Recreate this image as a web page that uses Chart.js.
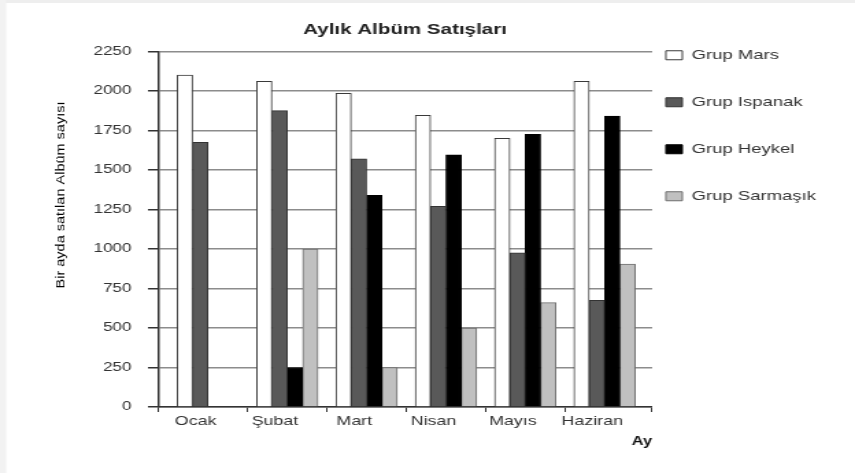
<!DOCTYPE html>
<html>
<head>
<meta charset="utf-8">
<style>
  html, body { margin: 0; padding: 0; background: #fff; overflow: hidden; }
  /* the chart is laid out on a narrower canvas and widened to the page */
  #wrap { width: 624px; height: 473px; transform: scaleX(1.3702); transform-origin: 0 0; }
</style>
<script src="https://cdn.jsdelivr.net/npm/chart.js@4/dist/chart.umd.min.js"></script>
</head>
<body>
<div id="wrap"><canvas id="chart" width="624" height="473"></canvas></div>
<script>
// Months (x categories)
const months = ['Ocak', 'Şubat', 'Mart', 'Nisan', 'Mayıs', 'Haziran'];

// Albums sold per month, one array per group
const grupMars     = [2100, 2060, 1985, 1845, 1700, 2060];
const grupIspanak  = [1675, 1875, 1570, 1270, 975, 675];
const grupHeykel   = [0, 250, 1340, 1595, 1725, 1840];
const grupSarmasik = [0, 1000, 250, 500, 660, 905];

// Y axis ticks
const yTicks = [0, 250, 500, 750, 1000, 1250, 1500, 1750, 2000, 2250];

const seriesNames = ['Grup Mars', 'Grup Ispanak', 'Grup Heykel', 'Grup Sarmaşık'];
const seriesData = [grupMars, grupIspanak, grupHeykel, grupSarmasik];
const seriesFill = ['#ffffff', '#595959', '#000000', '#c0c0c0'];
const seriesEdge = ['#3a3a3a', '#333333', '#000000', '#6e6e6e'];

const X_MIN = -0.63, X_MAX = 5.6;
// month centres carry the labels, group boundaries carry the tick marks
const xTickValues = [X_MIN];
months.forEach((m, i) => { xTickValues.push(i); if (i < months.length - 1) xTickValues.push(i + 0.5); });
xTickValues.push(X_MAX);

Chart.defaults.font.family = '"Liberation Sans", Arial, sans-serif';

const datasets = seriesNames.map((name, k) => ({
  label: name,
  data: seriesData[k].map((v, i) => ({ x: i, y: v })),
  backgroundColor: seriesFill[k],
  borderColor: seriesEdge[k],
  borderWidth: 1,
  barThickness: 11.2
}));

// light frame strip along the top and left edges
const edgeStrip = {
  id: 'edgeStrip',
  beforeDraw(chart) {
    const ctx = chart.ctx;
    ctx.save();
    ctx.fillStyle = '#eeeeee';
    ctx.fillRect(0, 0, chart.width, 3);
    ctx.fillStyle = '#f2f2f2';
    ctx.fillRect(0, 0, 4.5, chart.height);
    ctx.restore();
  }
};

// vertical title of the value axis
const yTitle = {
  id: 'yTitle',
  afterDraw(chart) {
    const ctx = chart.ctx;
    ctx.save();
    ctx.translate(44.4, 195);
    ctx.rotate(-Math.PI / 2);
    ctx.scale(1, 0.64);
    ctx.font = '14.5px "Liberation Sans", Arial, sans-serif';
    ctx.fillStyle = '#000';
    ctx.textAlign = 'center';
    ctx.textBaseline = 'middle';
    ctx.fillText('Bir ayda satılan Albüm sayısı', 0, 0);
    ctx.restore();
  }
};

new Chart(document.getElementById('chart'), {
  type: 'bar',
  data: { datasets },
  plugins: [edgeStrip, yTitle],
  options: {
    responsive: false,
    animation: false,
    devicePixelRatio: 1,
    layout: { padding: { top: 15, right: 18.5, bottom: 20, left: 0 } },
    plugins: {
      tooltip: { enabled: false },
      title: {
        display: true,
        text: 'Aylık Albüm Satışları',
        fullSize: false,
        color: '#222',
        font: { size: 15, weight: 'bold' },
        padding: { top: 6, bottom: 12.4 }
      },
      legend: {
        position: 'right',
        align: 'start',
        labels: {
          boxWidth: 12,
          boxHeight: 9,
          padding: 10,
          color: '#333',
          font: { size: 13.5 },
          generateLabels(chart) {
            const items = Chart.defaults.plugins.legend.labels.generateLabels(chart);
            const out = [];
            items.forEach(item => {
              out.push({ text: '', fillStyle: 'rgba(0,0,0,0)', strokeStyle: 'rgba(0,0,0,0)', lineWidth: 0, hidden: false, datasetIndex: null });
              out.push(item);
            });
            return out;
          }
        }
      }
    },
    scales: {
      x: {
        type: 'linear',
        position: 'bottom',
        offset: false,
        min: X_MIN,
        max: X_MAX,
        afterBuildTicks(scale) { scale.ticks = xTickValues.map(v => ({ value: v })); },
        afterFit(scale) { scale.height = 46; },
        border: { display: true, color: '#333', width: 1.5 },
        grid: {
          offset: false,
          drawOnChartArea: false,
          drawTicks: true,
          tickLength: 5,
          tickColor: (c) => (c.tick && Number.isInteger(c.tick.value)) ? 'rgba(0,0,0,0)' : '#333'
        },
        ticks: {
          autoSkip: false,
          maxRotation: 0,
          padding: 2,
          labelOffset: -9,
          color: '#333',
          font: { size: 13 },
          callback: (v) => Number.isInteger(v) ? months[v] : ''
        },
        title: {
          display: true,
          text: 'Ay',
          align: 'end',
          color: '#111',
          font: { size: 12, weight: 'bold' },
          padding: { top: 0, bottom: 4 }
        }
      },
      y: {
        min: yTicks[0],
        max: yTicks[yTicks.length - 1],
        afterBuildTicks(scale) { scale.ticks = yTicks.map(v => ({ value: v })); },
        afterFit(scale) { scale.width = 115.3; },
        border: { display: true, color: '#333', width: 1.5 },
        grid: { color: '#8c8c8c', lineWidth: 1.5, tickLength: 7.3, tickColor: '#333' },
        ticks: { padding: 12, color: '#333', font: { size: 12.5 }, callback: (v) => String(v) }
      }
    }
  }
});
</script>
</body>
</html>
